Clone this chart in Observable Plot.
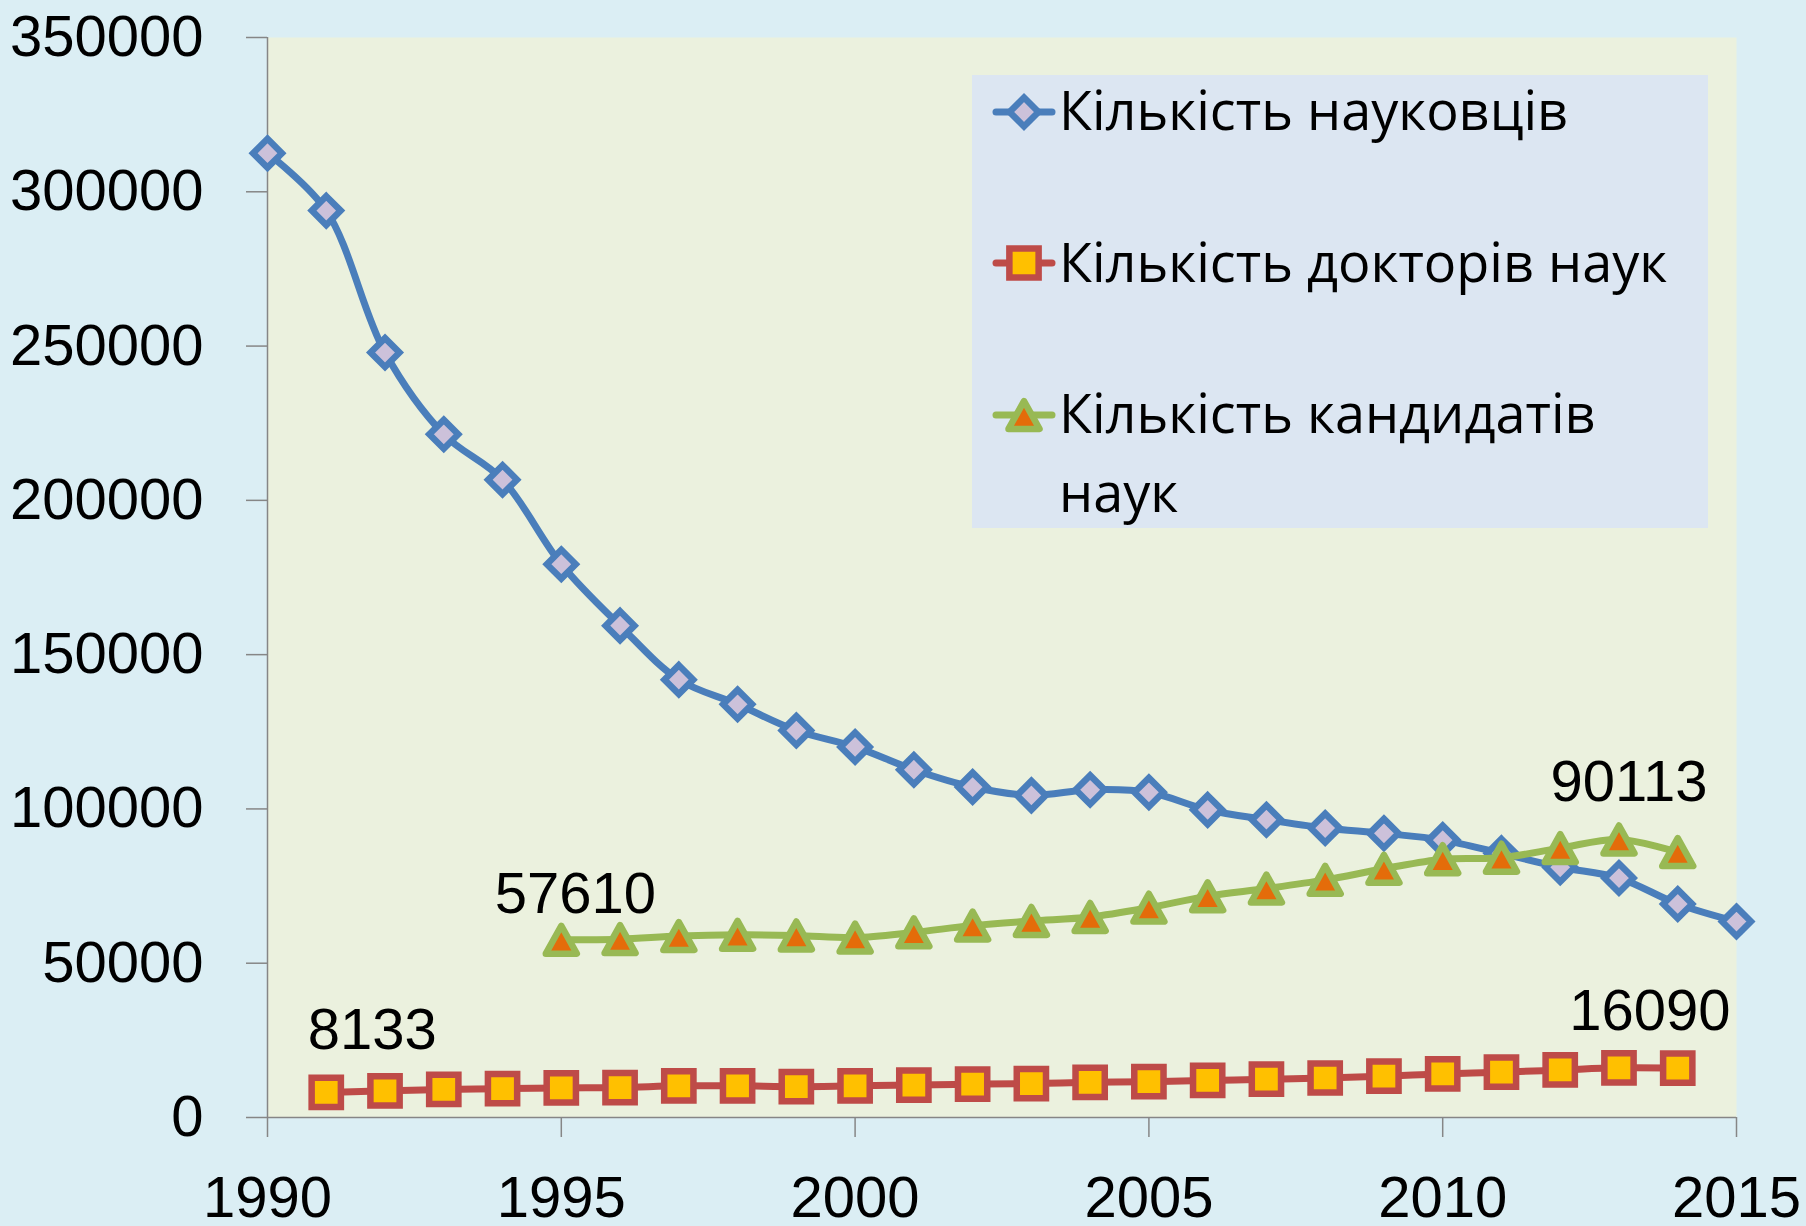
<!DOCTYPE html>
<html>
<head>
<meta charset="utf-8">
<script src="https://cdn.jsdelivr.net/npm/d3@7"></script>
<script src="https://cdn.jsdelivr.net/npm/@observablehq/plot@0.6"></script>
<style>
  html, body { margin: 0; padding: 0; background: #DBEEF4; }
  #wrap { position: relative; width: 1806px; height: 1226px; overflow: hidden; background: #DBEEF4; }
</style>
</head>
<body>
<div id="wrap"></div>
<script>
// ---- Data ----
const years = [1990,1991,1992,1993,1994,1995,1996,1997,1998,1999,2000,2001,2002,2003,2004,2005,2006,2007,2008,2009,2010,2011,2012,2013,2014,2015];
const scientists = [312500,293900,247900,221400,206700,179300,159400,141900,133900,125400,120100,112700,107100,104400,106200,105400,99700,96500,93800,92100,89900,85600,81100,77600,69200,63500];

const doctorYears = [1991,1992,1993,1994,1995,1996,1997,1998,1999,2000,2001,2002,2003,2004,2005,2006,2007,2008,2009,2010,2011,2012,2013,2014];
const doctors = [8133,8650,9100,9350,9600,9700,10250,10250,10000,10250,10500,10800,11000,11400,11600,12000,12400,12800,13400,14100,14700,15400,16090,16000];

const candidateYears = [1995,1996,1997,1998,1999,2000,2001,2002,2003,2004,2005,2006,2007,2008,2009,2010,2011,2012,2013,2014];
const candidates = [57610,57800,58800,59200,59000,58300,60000,62200,63700,65000,68000,71700,74200,77000,80600,83700,84200,87300,90113,86000];

const seriesNames = ["Кількість науковців", "Кількість докторів наук", "Кількість кандидатів наук"];
const xTicks = [1990,1995,2000,2005,2010,2015];
const yTicks = [0,50000,100000,150000,200000,250000,300000,350000];

const labelSeries = ["doctors","candidates","candidates","doctors"];
const labelYears  = [1991,1995,2013,2013];
const labelValues = [8133,57610,90113,16090];

// ---- Tables built from the arrays ----
const sci = years.map((y,i)=>({year:y, value:scientists[i]}));
const doc = doctorYears.map((y,i)=>({year:y, value:doctors[i]}));
const cand = candidateYears.map((y,i)=>({year:y, value:candidates[i]}));
const labels = labelYears.map((y,i)=>({series:labelSeries[i], year:y, value:labelValues[i]}));

// ---- Styles ----
// isosceles triangle centred on its bounding box (Excel-like marker)
const triSymbol = { draw(ctx, size) { const h = Math.sqrt(size/Math.PI); ctx.moveTo(0,-h*0.9); ctx.lineTo(h,h*0.9); ctx.lineTo(-h,h*0.9); ctx.closePath(); } };
const S = {
  sci:  {stroke:"#4A7EBB", fill:"#CCC1DA", symbol:"diamond2", r:13,   sw:6.5, lw:7, join:"miter"},
  doc:  {stroke:"#BE4B48", fill:"#FFC000", symbol:"square",   r:16.5, sw:6.5, lw:7, join:"miter"},
  cand: {stroke:"#98B954", fill:"#E46C0A", symbol:triSymbol,  r:15.5, sw:6.5, lw:7, join:"round"}
};
const labelOffsets = [[46,-62],[14,-45],[10,-57],[31,-56]];

const font = "'Liberation Sans', Arial, sans-serif";

function series(data, st) {
  return [
    Plot.line(data, {x:"year", y:"value", stroke:st.stroke, strokeWidth:st.lw, curve:"catmull-rom"}),
    Plot.dot(data, {x:"year", y:"value", symbol:st.symbol, r:st.r, fill:st.fill, stroke:st.stroke, strokeWidth:st.sw, strokeLinejoin:st.join})
  ];
}

const chart = Plot.plot({
  width: 1806,
  height: 1226,
  marginLeft: 267,
  marginRight: 70,
  marginTop: 37,
  marginBottom: 109,
  x: {domain:[1990,2015]},
  y: {domain:[0,350000]},
  style: {background:"transparent", fontFamily:font, fontSize:"58px", overflow:"visible", color:"black"},
  marks: [
    Plot.frame({fill:"#EBF1DE", stroke:"none"}),
    Plot.axisY({ticks:yTicks, tickSize:21, tickPadding:43, tickFormat:d=>String(d), stroke:"#868686", strokeWidth:1.5, fill:"black", label:null}),
    Plot.axisX({ticks:xTicks, tickSize:20, tickPadding:38, tickFormat:d=>String(d), stroke:"#868686", strokeWidth:1.5, fill:"black", label:null}),
    Plot.ruleX([1990], {stroke:"#868686", strokeWidth:1.5}),
    Plot.ruleY([0], {stroke:"#868686", strokeWidth:1.5}),
    ...series(sci, S.sci),
    ...series(doc, S.doc),
    ...series(cand, S.cand),
    ...labels.map((d,i)=>Plot.text([d], {x:"year", y:"value", text:v=>String(v.value), dx:labelOffsets[i][0], dy:labelOffsets[i][1], fill:"black", fontSize:58}))
  ]
});
chart.style.position = "absolute";
chart.style.left = "0px";
chart.style.top = "0px";
document.getElementById("wrap").appendChild(chart);

// ---- Legend ----
const lg = d3.select("#wrap").append("svg")
  .attr("width",736).attr("height",453)
  .style("position","absolute").style("left","972px").style("top","75px");
lg.append("rect").attr("width",736).attr("height",453).attr("fill","#DCE6F2");
const legendItems = [
  {st:S.sci,  cy:37,  lines:[seriesNames[0]], base:[55]},
  {st:S.doc,  cy:188, lines:[seriesNames[1]], base:[207]},
  {st:S.cand, cy:340, lines:["Кількість кандидатів", "наук"], base:[358,437]}
];
legendItems.forEach(it=>{
  const g = lg.append("g");
  g.append("line").attr("x1",24).attr("x2",80).attr("y1",it.cy).attr("y2",it.cy).attr("stroke",it.st.stroke).attr("stroke-width",it.st.lw).attr("stroke-linecap","round");
  const sym = typeof it.st.symbol === "string" ? {diamond2:d3.symbolDiamond2, square:d3.symbolSquare}[it.st.symbol] : it.st.symbol;
  g.append("path").attr("transform",`translate(52,${it.cy})`).attr("d", d3.symbol(sym, it.st.r*it.st.r*Math.PI)())
    .attr("fill",it.st.fill).attr("stroke",it.st.stroke).attr("stroke-width",it.st.sw).attr("stroke-linejoin",it.st.join);
  it.lines.forEach((t,j)=>{
    g.append("text").attr("x",87).attr("y",it.base[j]).attr("font-family","'Open Sans', 'Noto Sans', sans-serif").attr("font-size",54).attr("fill","black").text(t);
  });
});
</script>
</body>
</html>
